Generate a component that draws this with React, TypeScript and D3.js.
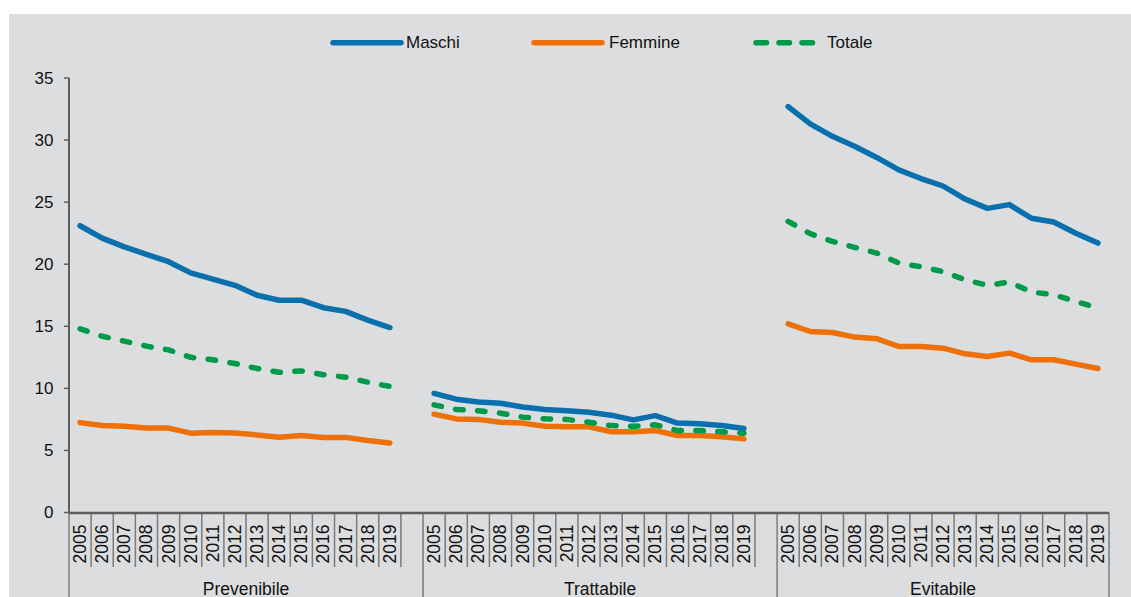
import React from "react";
import * as d3 from "d3";

const years = ["2005","2006","2007","2008","2009","2010","2011","2012","2013","2014","2015","2016","2017","2018","2019"];
const groups = ["Prevenibile", "Trattabile", "Evitabile"];
const yTicks = [0, 5, 10, 15, 20, 25, 30, 35];

const maschi = [
  [23.1, 22.1, 21.4, 20.8, 20.2, 19.3, 18.8, 18.3, 17.5, 17.1, 17.1, 16.5, 16.2, 15.5, 14.9],
  [9.6, 9.13, 8.9, 8.8, 8.5, 8.3, 8.2, 8.08, 7.84, 7.46, 7.8, 7.2, 7.15, 7.0, 6.76],
  [32.7, 31.3, 30.3, 29.5, 28.6, 27.6, 26.9, 26.3, 25.25, 24.5, 24.8, 23.7, 23.4, 22.5, 21.7],
];
const femmine = [
  [7.24, 7.0, 6.95, 6.8, 6.8, 6.39, 6.45, 6.4, 6.25, 6.06, 6.2, 6.05, 6.05, 5.8, 5.6],
  [7.92, 7.54, 7.5, 7.27, 7.2, 6.95, 6.9, 6.9, 6.5, 6.5, 6.6, 6.2, 6.2, 6.1, 5.93],
  [15.2, 14.58, 14.5, 14.13, 14.0, 13.37, 13.37, 13.24, 12.78, 12.57, 12.84, 12.3, 12.3, 11.95, 11.6],
];
const totale = [
  [14.8, 14.2, 13.8, 13.4, 13.1, 12.5, 12.3, 12.0, 11.6, 11.3, 11.4, 11.1, 10.9, 10.5, 10.15],
  [8.67, 8.3, 8.2, 8.0, 7.68, 7.55, 7.5, 7.27, 7.0, 6.95, 7.06, 6.6, 6.6, 6.5, 6.39],
  [23.45, 22.46, 21.84, 21.36, 20.9, 20.1, 19.8, 19.4, 18.75, 18.3, 18.56, 17.76, 17.54, 17.0, 16.47],
];

const seriesDefs = [
  { name: "Maschi", data: maschi, color: "#0a70ad", dash: null as string | null, legDash: null as string | null },
  { name: "Femmine", data: femmine, color: "#ee7008", dash: null as string | null, legDash: null as string | null },
  { name: "Totale", data: totale, color: "#009a4a", dash: "7.5,14.5", legDash: "10.5,12.5" },
];

const W = 1131, H = 597;
const X0 = 69, X1 = 1109, Y0 = 512.5, Y1 = 78;
const AX = "#5e5e5e";
const FONT = "'Liberation Sans', Arial, sans-serif";

export default function App() {
  const slots: string[] = [];
  groups.forEach((g, gi) => {
    years.forEach((yr) => slots.push(`${g}|${yr}`));
    if (gi < groups.length - 1) slots.push(`${g}|gap`);
  });
  const x = d3.scaleBand<string>().domain(slots).range([X0, X1]).padding(0);
  const y = d3.scaleLinear().domain([0, 35]).range([Y0, Y1]);
  const bw = x.bandwidth();
  const line = d3.line<[number, number]>().x((d) => d[0]).y((d) => d[1]);

  const groupStart = (g: string) => x(`${g}|2005`)!;
  const groupEnd = (gi: number) =>
    gi < groups.length - 1 ? x(`${groups[gi]}|gap`)! + bw : X1;

  const legX = [333, 534, 756];
  const legLen = [68, 68, 57];
  const legTx = [406, 609, 827];

  return (
    <svg width={W} height={H} style={{ position: "absolute", left: 0, top: 0, display: "block" }} fontFamily={FONT}>
      <rect x={0} y={0} width={W} height={H} fill="#ffffff" />
      <rect x={9} y={14} width={W - 9} height={H - 14} fill="#dcdddf" />

      {/* legend */}
      {seriesDefs.map((s, i) => (
        <g key={s.name}>
          <line x1={legX[i]} x2={legX[i] + legLen[i]} y1={42.7} y2={42.7} stroke={s.color} strokeWidth={5.5}
            strokeLinecap="round" strokeDasharray={s.legDash ?? undefined} />
          <text x={legTx[i]} y={42.7} dominantBaseline="central" fontSize={17} fill="#111">{s.name}</text>
        </g>
      ))}

      {/* y axis */}
      <line x1={X0} x2={X0} y1={Y1} y2={Y0} stroke={AX} strokeWidth={2} />
      {yTicks.map((t) => (
        <g key={t}>
          <line x1={X0 - 5} x2={X0} y1={y(t)} y2={y(t)} stroke={AX} strokeWidth={1.5} />
          <text x={53.5} y={y(t)} textAnchor="end" dominantBaseline="central" fontSize={17} fill="#111">{t}</text>
        </g>
      ))}

      {/* x axis */}
      {slots.map((s, i) => {
        const left = x(s)!;
        const isGroupBoundary = i === 0 || slots[i - 1].endsWith("gap");
        return (
          <line key={`t${i}`} x1={left} x2={left} y1={Y0} y2={isGroupBoundary ? H : 567}
            stroke="#7b7b7b" strokeWidth={1.5} />
        );
      })}
      <line x1={X1} x2={X1} y1={Y0} y2={H} stroke="#7b7b7b" strokeWidth={1.5} />
      <line x1={X0} x2={X1} y1={Y0 + 0.5} y2={Y0 + 0.5} stroke={AX} strokeWidth={2.5} />
      {groups.map((g) =>
        years.map((yr) => {
          const cx = x(`${g}|${yr}`)! + bw / 2;
          return (
            <text key={`${g}${yr}`} transform={`translate(${cx},${524.5}) rotate(-90)`} textAnchor="end"
              dominantBaseline="central" fontSize={17.5} fill="#111">{yr}</text>
          );
        })
      )}
      {groups.map((g, gi) => (
        <text key={g} x={(groupStart(g) + groupEnd(gi)) / 2} y={594.5} textAnchor="middle" fontSize={17.5} fill="#111">{g}</text>
      ))}

      {/* series */}
      {seriesDefs.map((s) =>
        groups.map((g, gi) => {
          const pts: [number, number][] = s.data[gi].map((v, k) => [x(`${g}|${years[k]}`)! + bw / 2, y(v)]);
          return (
            <path key={`${s.name}${g}`} d={line(pts)!} fill="none" stroke={s.color} strokeWidth={5.5}
              strokeLinecap="round" strokeLinejoin="round" strokeDasharray={s.dash ?? undefined} />
          );
        })
      )}
    </svg>
  );
}
